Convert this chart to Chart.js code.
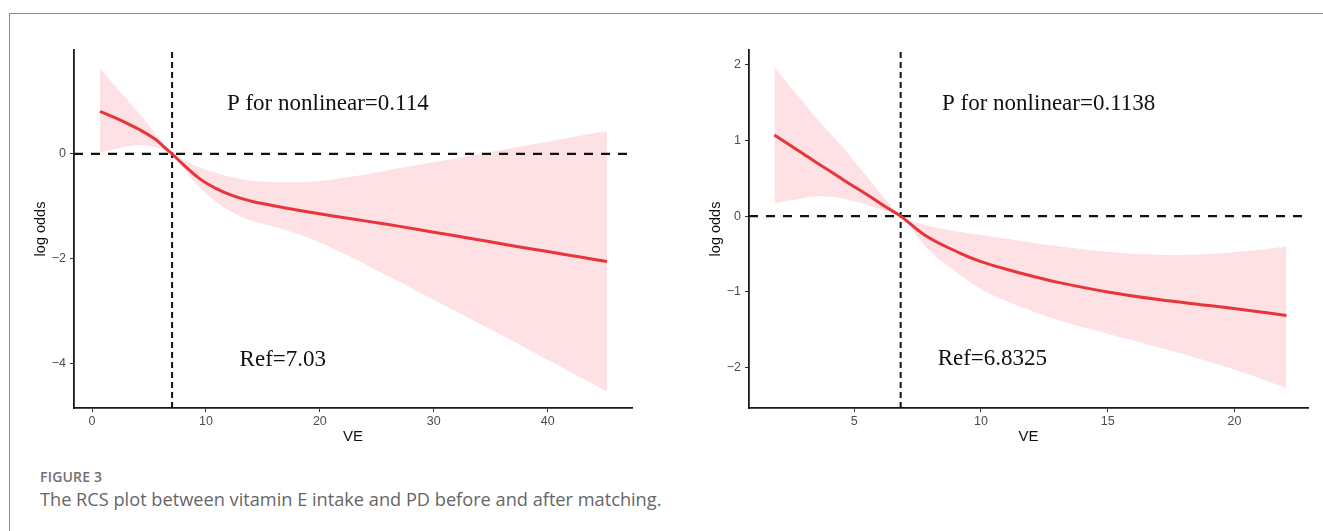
<!DOCTYPE html>
<html>
<head>
<meta charset="utf-8">
<script src="https://cdn.jsdelivr.net/npm/chart.js@4.4.1/dist/chart.umd.min.js"></script>
<style>
    html, body { margin: 0; padding: 0; background: #fff; overflow: hidden; }
    body { width: 1323px; height: 531px; position: relative; }
    .frame { position: absolute; left: 9px; top: 13px; width: 1330px; height: 540px;
             border-top: 1.5px solid #8a8a8a; border-left: 1.5px solid #8a8a8a; }
    .panel { position: absolute; top: 0; }
    #leftWrap { left: 0; width: 660px; height: 460px; }
    #rightWrap { left: 670px; width: 653px; height: 460px; }
    .fig-label { position: absolute; left: 40px; top: 467px; font-family: 'Open Sans', sans-serif;
                 font-weight: 600; font-size: 14px; color: #707070; letter-spacing: 0.2px; }
    .fig-caption { position: absolute; left: 40px; top: 487px; font-family: 'Open Sans', sans-serif;
                   font-size: 18.2px; color: #666; }
</style>
</head>
<body>
<div class="frame"></div>
<div class="panel" id="leftWrap"><canvas id="leftChart" width="660" height="460"></canvas></div>
<div class="panel" id="rightWrap"><canvas id="rightChart" width="653" height="460"></canvas></div>
<div class="fig-label">FIGURE 3</div>
<div class="fig-caption">The RCS plot between vitamin E intake and PD before and after matching.</div>

<script>
// Before matching (left panel)
const leftVE = [0.7, 2, 3, 4.2, 5.5, 6.2, 7.03, 8, 9.5, 11, 12.4, 14, 15.3, 17, 19.7, 22.6, 25.3, 27, 30, 33, 36.4, 40, 43, 45.2];
const leftFit = [0.81, 0.69, 0.59, 0.46, 0.29, 0.16, 0, -0.2, -0.48, -0.67, -0.8, -0.9, -0.96, -1.03, -1.13, -1.23, -1.32, -1.38, -1.49, -1.6, -1.73, -1.86, -1.97, -2.05];
const leftUpper = [1.63, 1.3, 1.05, 0.75, 0.4, 0.2, 0, -0.11, -0.26, -0.37, -0.45, -0.51, -0.53, -0.54, -0.52, -0.44, -0.34, -0.27, -0.16, -0.04, 0.09, 0.23, 0.35, 0.43];
const leftLower = [0.02, 0.09, 0.14, 0.17, 0.13, 0.08, 0, -0.27, -0.64, -0.93, -1.12, -1.27, -1.35, -1.45, -1.66, -1.95, -2.25, -2.44, -2.78, -3.12, -3.5, -3.92, -4.27, -4.53];
const leftRef = 7.03;
const leftP = 'P for nonlinear=0.114';

// After matching (right panel)
const rightVE = [1.85, 3, 3.4, 4.3, 4.7, 5.5, 6.3, 6.83, 7.87, 9.19, 10, 11, 12, 13.14, 15, 17, 19, 20.5, 22.05];
const rightFit = [1.07, 0.82, 0.73, 0.54, 0.45, 0.285, 0.11, 0, -0.27, -0.49, -0.6, -0.7, -0.79, -0.88, -1.0, -1.1, -1.18, -1.24, -1.31];
const rightUpper = [1.96, 1.5, 1.33, 1.0, 0.85, 0.52, 0.2, 0, -0.12, -0.21, -0.25, -0.3, -0.35, -0.4, -0.47, -0.51, -0.5, -0.46, -0.4];
const rightLower = [0.17, 0.24, 0.26, 0.25, 0.22, 0.15, 0.06, 0, -0.42, -0.78, -0.96, -1.12, -1.25, -1.38, -1.55, -1.73, -1.92, -2.08, -2.27];
const rightRef = 6.8325;
const rightP = 'P for nonlinear=0.1138';

function toPoints(xs, ys) {
    return xs.map((x, i) => ({ x: x, y: ys[i] }));
}

function minusLabel(value) {
    return value < 0 ? '\u2212' + Math.abs(value) : String(value);
}

// Text annotations drawn at data coordinates
const annotationPlugin = {
    id: 'rcsText',
    afterDatasetsDraw(chart, args, opts) {
        const { ctx, scales } = chart;
        ctx.save();
        ctx.font = '23px "Liberation Serif", "Times New Roman", serif';
        ctx.fillStyle = '#111';
        ctx.textAlign = 'center';
        ctx.textBaseline = 'middle';
        opts.items.forEach(item => {
            ctx.fillText(item.text, scales.x.getPixelForValue(item.x), scales.y.getPixelForValue(item.y));
        });
        ctx.restore();
    }
};

function buildChart(canvasId, cfg) {
    const band = 'rgba(252, 205, 210, 0.6)';
    return new Chart(document.getElementById(canvasId), {
        type: 'line',
        data: {
            datasets: [
                {
                    data: toPoints(cfg.ve, cfg.fit),
                    borderColor: '#e8353b',
                    borderWidth: 3,
                    tension: 0.4,
                    pointRadius: 0,
                    fill: false,
                    order: 0
                },
                {
                    data: [{ x: cfg.xMin, y: 0 }, { x: cfg.xMax, y: 0 }],
                    borderColor: '#111',
                    borderWidth: 2.2,
                    borderDash: [9, 8],
                    pointRadius: 0,
                    tension: 0,
                    fill: false,
                    order: 1
                },
                {
                    data: [{ x: cfg.ref, y: cfg.yMin }, { x: cfg.ref, y: cfg.yMax }],
                    borderColor: '#111',
                    borderWidth: 2,
                    borderDash: [6, 4],
                    pointRadius: 0,
                    tension: 0,
                    fill: false,
                    order: 1
                },
                {
                    data: toPoints(cfg.ve, cfg.upper),
                    borderWidth: 0,
                    borderColor: 'rgba(0,0,0,0)',
                    backgroundColor: band,
                    tension: 0.4,
                    pointRadius: 0,
                    fill: '+1',
                    order: 2
                },
                {
                    data: toPoints(cfg.ve, cfg.lower),
                    borderWidth: 0,
                    borderColor: 'rgba(0,0,0,0)',
                    tension: 0.4,
                    pointRadius: 0,
                    fill: false,
                    order: 2
                }
            ]
        },
        options: {
            responsive: false,
            animation: false,
            layout: { padding: { top: 50, right: cfg.padRight, left: 0, bottom: 0 } },
            plugins: {
                legend: { display: false },
                tooltip: { enabled: false },
                rcsText: { items: cfg.texts }
            },
            scales: {
                x: {
                    type: 'linear',
                    min: cfg.xMin,
                    max: cfg.xMax,
                    grid: { drawOnChartArea: false, drawTicks: true, tickLength: 4, tickColor: '#333', tickWidth: 1 },
                    border: { display: true, color: '#1a1a1a', width: 1.8 },
                    ticks: {
                        stepSize: cfg.xStep,
                        includeBounds: false,
                        color: '#4d4d4d',
                        padding: 2,
                        maxRotation: 0,
                        font: { family: '"Liberation Sans", Arial, sans-serif', size: 12.5 }
                    },
                    title: {
                        display: true,
                        text: 'VE',
                        color: '#111',
                        font: { family: '"Liberation Sans", Arial, sans-serif', size: 15 },
                        padding: { top: 0, bottom: 14 }
                    },
                    afterFit: scale => { scale.height = 52; }
                },
                y: {
                    type: 'linear',
                    min: cfg.yMin,
                    max: cfg.yMax,
                    grid: { drawOnChartArea: false, drawTicks: true, tickLength: 4, tickColor: '#333', tickWidth: 1 },
                    border: { display: true, color: '#1a1a1a', width: 1.8 },
                    ticks: {
                        stepSize: cfg.yStep,
                        includeBounds: false,
                        color: '#4d4d4d',
                        padding: 4,
                        font: { family: '"Liberation Sans", Arial, sans-serif', size: 12.5 },
                        callback: minusLabel
                    },
                    title: {
                        display: true,
                        text: 'log odds',
                        color: '#111',
                        font: { family: '"Liberation Sans", Arial, sans-serif', size: 14.5 },
                        padding: { top: cfg.titleOffset, bottom: 0 }
                    },
                    afterFit: scale => { scale.width = cfg.yWidth; }
                }
            }
        },
        plugins: [annotationPlugin]
    });
}

buildChart('leftChart', {
    ve: leftVE, fit: leftFit, upper: leftUpper, lower: leftLower, ref: leftRef,
    xMin: -1.58, xMax: 47.4, xStep: 10,
    yMin: -4.84, yMax: 1.98, yStep: 2,
    yWidth: 74, padRight: 28, titleOffset: 32,
    texts: [
        { text: leftP, x: 20.7, y: 0.95 },
        { text: 'Ref=7.03', x: 16.75, y: -3.92 }
    ]
});

buildChart('rightChart', {
    ve: rightVE, fit: rightFit, upper: rightUpper, lower: rightLower, ref: rightRef,
    xMin: 0.85, xMax: 22.9, xStep: 5,
    yMin: -2.53, yMax: 2.19, yStep: 1,
    yWidth: 79, padRight: 15, titleOffset: 37,
    texts: [
        { text: rightP, x: 12.67, y: 1.48 },
        { text: 'Ref=6.8325', x: 10.45, y: -1.88 }
    ]
});
</script>
</body>
</html>
